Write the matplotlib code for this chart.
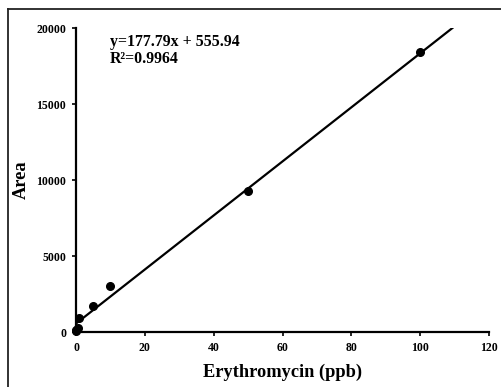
import matplotlib.pyplot as plt
import matplotlib.lines as mlines
import numpy as np

plt.rcParams['font.family'] = ['Liberation Serif', 'DejaVu Serif']

# calibration points
conc = [0, 0.1, 0.5, 1, 5, 10, 50, 100]
area = [60, 150, 250, 950, 1700, 3000, 9250, 18400]
slope = 177.79
intercept = 555.94
x_fit_end = (20000 - intercept) / slope

fig = plt.figure(figsize=(5.02, 3.87), dpi=100)
ax = fig.add_axes([0.1514, 0.1421, 0.8227, 0.7855])

# outer frame (only left and top edges visible)
fig.add_artist(mlines.Line2D([8 / 502, 8 / 502], [0, 1 - 9 / 387], transform=fig.transFigure,
                             color='#222222', lw=1.3))
fig.add_artist(mlines.Line2D([8 / 502, 1], [1 - 9 / 387, 1 - 9 / 387], transform=fig.transFigure,
                             color='#222222', lw=1.3))

xf = np.array([0, x_fit_end])
ax.plot(xf, slope * xf + intercept, color='black', lw=1.6, zorder=2)
ax.plot(conc, area, 'o', color='black', ms=5.5, zorder=3, clip_on=False)

ax.set_xlim(0, 120)
ax.set_ylim(0, 20000)
ax.set_xticks([0, 20, 40, 60, 80, 100, 120])
ax.set_yticks([0, 5000, 10000, 15000, 20000])
for s in ['top', 'right']:
    ax.spines[s].set_visible(False)
for s in ['left', 'bottom']:
    ax.spines[s].set_linewidth(1.6)
ax.tick_params(direction='out', length=3, width=1.2, labelsize=8.5, pad=4)
for lab in ax.get_xticklabels() + ax.get_yticklabels():
    lab.set_fontweight('bold')

ax.set_xlabel('Erythromycin (ppb)', fontsize=13.2, fontweight='bold', labelpad=7)
ax.set_ylabel('Area', fontsize=13.2, fontweight='bold', labelpad=5)

ax.text(0.082, 0.98, 'y=177.79x + 555.94\nR\u00b2=0.9964', transform=ax.transAxes,
        fontsize=11.4, fontweight='bold', va='top', ha='left', linespacing=1.05)

fig.savefig('out.png', dpi=100)
